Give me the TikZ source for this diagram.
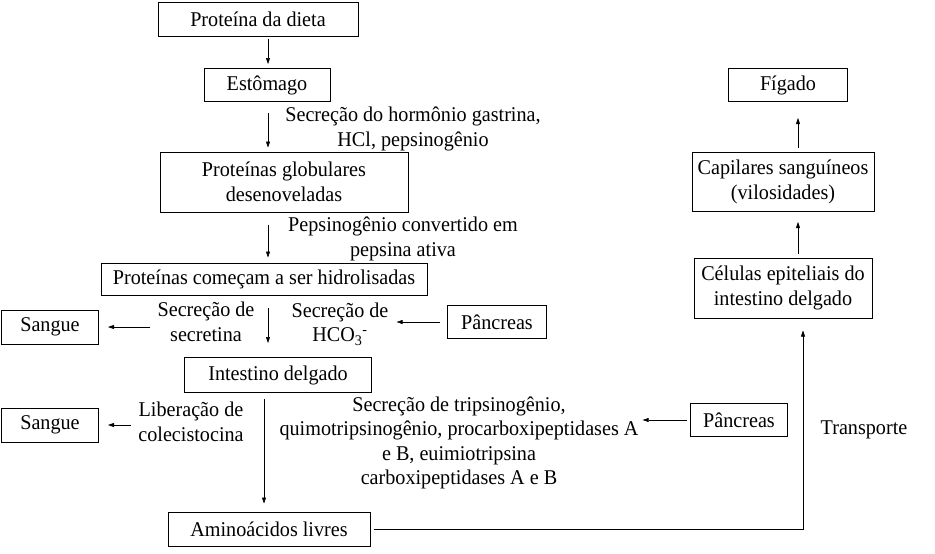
\documentclass[tikz,border=0pt]{standalone}
\usepackage{fontspec}
\setmainfont[FakeStretch=0.96]{Liberation Serif}
\usetikzlibrary{arrows.meta,positioning}
\newcommand\fsz{\fontsize{21}{24.5}\selectfont}
\tikzset{
  box/.style={draw, line width=1pt, align=center, inner sep=0pt, font=\fsz},
  lbl/.style={align=center, inner sep=0pt, font=\fsz},
  flow/.style={-{Triangle[length=6pt,width=4pt]}, line width=0.5pt}
}

\begin{document}
\begin{tikzpicture}[x=1pt, y=-1pt]
  \useasboundingbox (0,0) rectangle (935,554);
  \coordinate (spine) at (268,0);
  \coordinate (drop) at (264,0);
  \coordinate (rise) at (803,0);
  \coordinate (up) at (798,0);
  % left column
  \node[box, minimum width=200pt, minimum height=34pt] (dieta) at (258,19) {Proteína da dieta};
  \node[box, minimum width=126pt, minimum height=33pt] (estomago) at (267,85) {Estômago};
  \node[box, minimum width=248pt, minimum height=60pt] (globulares) at (284,182) {Proteínas globulares\\desenoveladas};
  \node[box, minimum width=326pt, minimum height=32pt] (hidro) at (264,279) {Proteínas começam a ser hidrolisadas};
  \node[box, minimum width=187pt, minimum height=35pt] (intestino) at (278,375) {Intestino delgado};
  \node[box, minimum width=202pt, minimum height=34pt] (amino) at (269,529) {Aminoácidos livres};
  \node[box, minimum width=97pt, minimum height=34pt] (sangueA) at (50,327) {Sangue};
  \node[box, minimum width=97pt, minimum height=34pt] (sangueB) at (50,425) {Sangue};
  \node[box, minimum width=99pt, minimum height=33pt] (pancA) at (497,322) {Pâncreas};
  \node[box, minimum width=97pt, minimum height=33pt] (pancB) at (739,420) {Pâncreas};
  % right column
  \node[box, minimum width=178pt, minimum height=60pt] (celulas) at (783,288) {Células epiteliais do\\intestino delgado};
  \node[box, minimum width=182pt, minimum height=59pt] (capilares) at (783,182) {Capilares sanguíneos\\(vilosidades)};
  \node[box, minimum width=119pt, minimum height=33pt] (figado) at (788,85) {Fígado};
  % labels
  \node[lbl] (gastrina) at (413,129) {Secreção do hormônio gastrina,\\HCl, pepsinogênio};
  \node[lbl] (pepsina) at (403,239) {Pepsinogênio convertido em\\pepsina ativa};
  \node[lbl] (secretina) at (206,322) {Secreção de\\secretina};
  \node[lbl] (hco) at (340,324) {Secreção de\\HCO\textsubscript{3}\textsuperscript{-}};
  \node[lbl] (colecisto) at (191,422) {Liberação de\\colecistocina};
  \node[lbl] (tripsina) at (459,443) {Secreção de tripsinogênio,\\quimotripsinogênio, procarboxipeptidases A\\e B, euimiotripsina\\carboxipeptidases A e B};
  \node[lbl] (transporte) at (864,430) {Transporte};
  % connectors
  \draw[flow, shorten <=2pt, shorten >=4pt] (spine |- dieta.south) -- (spine |- estomago.north);
  \draw[flow, shorten <=11pt, shorten >=4pt] (spine |- estomago.south) -- (spine |- globulares.north);
  \draw[flow, shorten <=12pt, shorten >=5pt] (spine |- globulares.south) -- (spine |- hidro.north);
  \draw[flow, shorten <=12pt, shorten >=14pt] (spine |- hidro.south) -- (spine |- intestino.north);
  \draw[flow, shorten <=6pt, shorten >=8pt] (drop |- intestino.south) -- (drop |- amino.north);
  \draw[flow, shorten <=7pt, shorten >=9pt] (sangueA.east -| secretina.west) -- (sangueA.east);
  \draw[flow, shorten <=7pt, shorten >=8pt] (pancA.west) -- (pancA.west -| hco.east);
  \draw[flow, shorten <=7pt, shorten >=9pt] (sangueB.east -| colecisto.west) -- (sangueB.east);
  \draw[flow, shorten <=3pt, shorten >=4pt] (pancB.west) -- (pancB.west -| tripsina.east);
  \draw[flow, shorten <=3pt, shorten >=12pt] (amino.east) -- (rise |- amino.east) -- (rise |- celulas.south);
  \draw[flow, shorten <=4pt, shorten >=10pt] (up |- celulas.north) -- (up |- capilares.south);
  \draw[flow, shorten <=4pt, shorten >=16pt] (up |- capilares.north) -- (up |- figado.south);
\end{tikzpicture}
\end{document}
